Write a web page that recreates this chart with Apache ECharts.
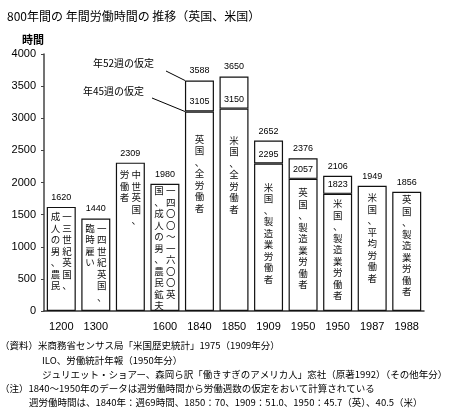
<!DOCTYPE html>
<html>
<head>
<meta charset="utf-8">
<script src="https://cdn.jsdelivr.net/npm/echarts@6/dist/echarts.min.js"></script>
<style>
  html, body { margin: 0; padding: 0; background: #fff; }
  #main { width: 474px; height: 415px; }
</style>
</head>
<body>
<div id="main"></div>
<script>
  // data
  const categories = ['1200', '1300', 'medieval', '1600', '1840', '1850', '1909', '1950uk', '1950us', '1987', '1988'];
  const tickLabels = ['1200', '1300', '', '1600', '1840', '1850', '1909', '1950', '1950', '1987', '1988'];
  const baseHours = [1620, 1440, 2309, 1980, 3105, 3150, 2295, 2057, 1823, 1949, 1856];
  const totalHours = [null, null, null, null, 3588, 3650, 2652, 2376, 2106, null, null];
  // vertical captions: [right column, left column]
  const captions = [
    ['一三世紀英国、', '成人の男、農民'],
    ['一四世紀英国、', '臨時雇い'],
    ['中世英国、', '労働者'],
    ['一四〇〇～一六〇〇英', '国、成人の男、農民鉱夫'],
    ['英国、全労働者'],
    ['米国、全労働者'],
    ['米国、製造業労働者'],
    ['英国、製造業労働者'],
    ['米国、製造業労働者'],
    ['米国、平均労働者'],
    ['英国、製造業労働者']
  ];
  const captionGap = [4, 4, 6, 1, 22, 26, 18, 8, 4, 6, 2];
  const notes = [
    '（資料）米商務省センサス局「米国歴史統計」1975（1909年分）',
    'ILO、労働統計年報（1950年分）',
    'ジュリエット・ショアー、森岡ら訳「働きすぎのアメリカ人」窓社（原著1992）（その他年分）',
    '（注）1840～1950年のデータは週労働時間から労働週数の仮定をおいて計算されている',
    '週労働時間は、1840年：週69時間、1850：70、1909：51.0、1950：45.7（英）、40.5（米）'
  ];
  const noteLeft = [0, 42, 42, 0, 29];

  const JP = '"Noto Sans CJK JP"';
  const NUM = '"Liberation Sans", "Noto Sans CJK JP"';

  function vertical(cols) {
    const right = Array.from(cols[0]);
    const left = cols[1] ? Array.from(cols[1]) : null;
    const n = Math.max(right.length, left ? left.length : 0);
    const rows = [];
    for (let i = 0; i < n; i++) {
      if (left) rows.push((left[i] || '　') + ' ' + (right[i] || '　'));
      else rows.push(right[i]);
    }
    return rows.join('\n');
  }

  const myChart = echarts.init(document.getElementById('main'));

  const baseData = baseHours.map(function (v, i) {
    return {
      value: v,
      label: {
        show: true,
        position: 'insideTop',
        distance: captionGap[i],
        formatter: vertical(captions[i])
      }
    };
  });
  const upperData = totalHours.map(function (t, i) {
    return t == null ? '-' : {
      value: t - baseHours[i],
      label: { show: true, formatter: String(t) }
    };
  });

  const option = {
    animation: false,
    backgroundColor: '#fff',
    title: {
      text: '800年間の 年間労働時間の 推移（英国、米国）',
      left: 2, top: 5,
      textStyle: { fontFamily: JP, fontSize: 12, fontWeight: 'normal', color: '#000' }
    },
    grid: { left: 44, right: 50, top: 54, bottom: 104 },
    xAxis: {
      type: 'category',
      data: categories,
      axisLine: { lineStyle: { color: '#333', width: 1.5 } },
      axisTick: { show: false },
      axisLabel: {
        color: '#000', fontFamily: NUM, fontSize: 11, margin: 10,
        formatter: function (v, i) { return tickLabels[i]; }
      }
    },
    yAxis: {
      type: 'value',
      min: 0, max: 4000, interval: 500,
      splitLine: { show: false },
      axisLine: { show: true, lineStyle: { color: '#444', width: 1.5 } },
      axisTick: { show: true, length: 3, lineStyle: { color: '#444' } },
      axisLabel: {
        color: '#000', fontFamily: NUM, fontSize: 11, margin: 8,
        formatter: function (v) { return String(v); }
      }
    },
    series: [
      {
        name: 'base',
        type: 'bar',
        stack: 'h',
        barWidth: 29,
        data: baseData,
        itemStyle: { color: '#fff', borderColor: '#111', borderWidth: 1.2 },
        label: { color: '#111', fontFamily: JP, fontSize: 9.5, lineHeight: 11.5, align: 'center' }
      },
      {
        name: 'upper',
        type: 'bar',
        stack: 'h',
        barWidth: 29,
        data: upperData,
        itemStyle: { color: '#fff', borderColor: '#111', borderWidth: 1.2 },
        label: { position: 'top', distance: 5, color: '#000', fontFamily: NUM, fontSize: 9 }
      },
      {
        name: 'baseValue',
        type: 'bar',
        barWidth: 29,
        barGap: '-100%',
        silent: true,
        data: baseHours,
        itemStyle: { color: 'rgba(0,0,0,0)' },
        label: { show: true, position: 'top', distance: 5, color: '#000', fontFamily: NUM, fontSize: 9 }
      }
    ],
    textStyle: { fontFamily: JP }
  };
  myChart.setOption(option);

  // assumption annotations pointing at the 1840 bar
  const c52 = myChart.convertToPixel({ seriesIndex: 0 }, [4, totalHours[4]]);
  const c45 = myChart.convertToPixel({ seriesIndex: 0 }, [4, baseHours[4]]);
  const edge = c52[0] - 14.5;
  const noteStyle = { fontFamily: JP, fontSize: 10, fill: '#000' };
  const graphics = [
    { type: 'text', left: 22, top: 34, style: { text: '時間', fontFamily: JP, fontSize: 11, fontWeight: 'bold', fill: '#000' } },
    { type: 'text', left: 93, top: 58, style: Object.assign({ text: '年52週の仮定' }, noteStyle) },
    { type: 'text', left: 83, top: 86, style: Object.assign({ text: '年45週の仮定' }, noteStyle) },
    { type: 'line', shape: { x1: 166, y1: 71, x2: edge, y2: c52[1] }, style: { stroke: '#000', lineWidth: 1 } },
    { type: 'line', shape: { x1: 152, y1: 98, x2: edge, y2: c45[1] }, style: { stroke: '#000', lineWidth: 1 } }
  ];
  notes.forEach(function (t, i) {
    graphics.push({
      type: 'text', left: noteLeft[i], top: 341 + i * 14.2,
      style: { text: t, fontFamily: JP, fontSize: 9.5, fill: '#000' }
    });
  });
  myChart.setOption({ graphic: graphics });
</script>
</body>
</html>
